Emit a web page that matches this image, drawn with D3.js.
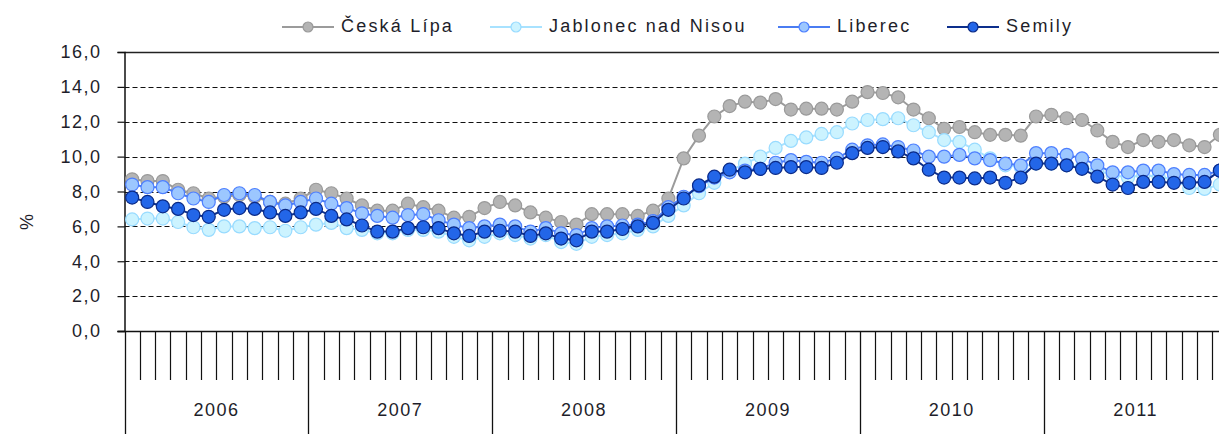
<!DOCTYPE html>
<html>
<head>
<meta charset="utf-8">
<script src="https://cdn.jsdelivr.net/npm/d3@7"></script>
<style>
  body { margin: 0; background: #fff; }
  svg text { font-family: "Liberation Sans", Arial, sans-serif; fill: #1e1e2a; }
</style>
</head>
<body>
<svg id="chart" width="1219" height="434"></svg>
<script>
// years on the category axis, 12 months each
const years = ['2006', '2007', '2008', '2009', '2010', '2011'];
const monthsPerYear = 12;
const yTicks = [0, 2, 4, 6, 8, 10, 12, 14, 16];
const seriesNames = ['Česká Lípa', 'Jablonec nad Nisou', 'Liberec', 'Semily'];

// unemployment rate in %, Jan 2006 .. Dec 2011
const ceskaLipa = [
  8.7, 8.6, 8.6, 8.1, 7.9, 7.6, 7.7, 7.8, 7.7, 7.4, 7.3, 7.6,
  8.1, 7.9, 7.6, 7.2, 6.9, 6.9, 7.3, 7.1, 6.9, 6.5, 6.55, 7.05,
  7.4, 7.2, 6.8, 6.5, 6.25, 6.1, 6.7, 6.7, 6.7, 6.6, 6.9, 7.6,
  9.9, 11.2, 12.3, 12.9, 13.15, 13.1, 13.3, 12.7, 12.75, 12.75, 12.7, 13.15,
  13.7, 13.65, 13.4, 12.7, 12.2, 11.6, 11.7, 11.4, 11.25, 11.25, 11.2, 12.3,
  12.4, 12.2, 12.1, 11.5, 10.85, 10.55, 10.95, 10.85, 10.95, 10.65, 10.55, 11.25
];
const jablonec = [
  6.4, 6.45, 6.45, 6.25, 5.95, 5.8, 6.0, 6.0, 5.9, 5.95, 5.75, 5.95,
  6.1, 6.2, 5.9, 5.8, 5.6, 5.6, 5.8, 5.8, 5.7, 5.4, 5.2, 5.4,
  5.6, 5.5, 5.3, 5.5, 5.1, 5.0, 5.4, 5.5, 5.6, 5.8, 6.0, 6.6,
  7.2, 7.9, 8.5, 9.2, 9.6, 10.0, 10.5, 10.9, 11.1, 11.3, 11.4, 11.9,
  12.1, 12.15, 12.2, 11.8, 11.4, 10.95, 10.85, 10.4, 9.9, 9.5, 9.4, 9.6,
  9.6, 9.5, 9.4, 9.2, 8.95, 8.8, 8.95, 8.85, 8.7, 8.2, 8.15, 8.4
];
const liberec = [
  8.4, 8.25, 8.25, 7.9, 7.6, 7.4, 7.8, 7.9, 7.8, 7.4, 7.2, 7.4,
  7.6, 7.3, 7.05, 6.75, 6.6, 6.5, 6.65, 6.7, 6.35, 6.1, 5.9, 6.0,
  6.1, 6.0, 5.7, 5.9, 5.6, 5.5, 5.9, 6.0, 6.05, 6.1, 6.3, 7.1,
  7.7, 8.3, 8.8, 9.1, 9.2, 9.3, 9.65, 9.8, 9.7, 9.65, 9.9, 10.4,
  10.65, 10.7, 10.55, 10.35, 10.0, 10.0, 10.1, 9.9, 9.8, 9.6, 9.5, 10.2,
  10.2, 10.1, 9.9, 9.5, 9.1, 9.1, 9.2, 9.2, 9.0, 8.95, 8.95, 9.2
];
const semily = [
  7.65, 7.4, 7.15, 7.0, 6.65, 6.55, 6.95, 7.05, 7.0, 6.8, 6.6, 6.8,
  7.0, 6.6, 6.4, 6.05, 5.7, 5.7, 5.9, 5.95, 5.9, 5.6, 5.45, 5.7,
  5.75, 5.7, 5.45, 5.6, 5.3, 5.2, 5.7, 5.7, 5.85, 6.0, 6.2, 6.95,
  7.6, 8.35, 8.85, 9.25, 9.1, 9.3, 9.35, 9.4, 9.4, 9.35, 9.65, 10.2,
  10.5, 10.55, 10.3, 9.9, 9.25, 8.8, 8.8, 8.75, 8.8, 8.5, 8.8, 9.6,
  9.6, 9.5, 9.3, 8.85, 8.4, 8.2, 8.55, 8.55, 8.5, 8.5, 8.55, 9.2
];

const allSeries = [ceskaLipa, jablonec, liberec, semily];
const styles = [
  { line: '#9b9b9b', fill: '#b4b4b4', stroke: '#9a9a9a' },
  { line: '#a8e2ff', fill: '#ccf3ff', stroke: '#98dbff' },
  { line: '#4a7cf2', fill: '#9cc7ff', stroke: '#4d7fff' },
  { line: '#0d2f8c', fill: '#2366e8', stroke: '#0b2a86' }
];

// month keys like 2006-1
const months = [];
years.forEach(yr => { for (let m = 1; m <= monthsPerYear; m++) months.push(yr + '-' + m); });

const svg = d3.select('#chart');
const plotLeft = 124.5, plotTop = 52, plotBottom = 331;
const monthW = 15.32;

// the plot runs a little past the right edge of the picture (cut off like the original)
const x = d3.scaleBand().domain(months).range([plotLeft, plotLeft + months.length * monthW]);
const y = d3.scaleLinear().domain([0, 16]).range([plotBottom, plotTop]);
const fmt = d3.formatLocale({ decimal: ',', thousands: ' ', grouping: [3], currency: ['', ' Kč'] }).format('.1f');

// dashed gridlines
svg.append('g')
  .selectAll('line')
  .data(yTicks.filter(t => t > 0 && t < 16))
  .enter().append('line')
  .attr('x1', plotLeft).attr('x2', 1219)
  .attr('y1', d => Math.round(y(d)) + 0.5).attr('y2', d => Math.round(y(d)) + 0.5)
  .attr('stroke', '#111').attr('stroke-width', 1.2)
  .attr('stroke-dasharray', '5,3');

// top border of plot
svg.append('line')
  .attr('x1', plotLeft).attr('x2', 1219)
  .attr('y1', Math.round(y(16)) + 0.5).attr('y2', Math.round(y(16)) + 0.5)
  .attr('stroke', '#222').attr('stroke-width', 1.5);

// y axis
const yAxis = svg.append('g')
  .attr('transform', 'translate(' + plotLeft + ',0)')
  .call(d3.axisLeft(y).tickValues(yTicks).tickSize(7).tickPadding(16).tickFormat(fmt));
yAxis.select('.domain').attr('stroke', '#111').attr('stroke-width', 1.5);
yAxis.selectAll('.tick line').attr('stroke', '#111').attr('stroke-width', 1.2);
yAxis.selectAll('text')
  .style('font-size', '18px').style('letter-spacing', '1.5px')
  .attr('fill', '#1e1e2a');

svg.append('text')
  .attr('transform', 'translate(28,222) rotate(-90)')
  .attr('text-anchor', 'middle')
  .attr('dominant-baseline', 'middle')
  .style('font-size', '18px')
  .text('%');

// x axis line
svg.append('line')
  .attr('x1', plotLeft - 7).attr('x2', 1219)
  .attr('y1', plotBottom + 0.5).attr('y2', plotBottom + 0.5)
  .attr('stroke', '#111').attr('stroke-width', 1.5);

// month ticks
svg.append('g')
  .selectAll('line')
  .data(months.filter((m, i) => i % monthsPerYear !== 0))
  .enter().append('line')
  .attr('x1', d => Math.round(x(d)) + 0.5).attr('x2', d => Math.round(x(d)) + 0.5)
  .attr('y1', plotBottom).attr('y2', 380)
  .attr('stroke', '#111').attr('stroke-width', 1.2);

// year separators and labels
const yearStart = yr => x(yr + '-1');
const yearW = monthW * monthsPerYear;
svg.append('g')
  .selectAll('line')
  .data(years)
  .enter().append('line')
  .attr('x1', d => Math.round(yearStart(d)) + 0.5).attr('x2', d => Math.round(yearStart(d)) + 0.5)
  .attr('y1', plotBottom).attr('y2', 434)
  .attr('stroke', '#111').attr('stroke-width', 1.3);

svg.append('g')
  .selectAll('text')
  .data(years)
  .enter().append('text')
  .attr('x', d => yearStart(d) + yearW / 2)
  .attr('y', 411)
  .attr('text-anchor', 'middle')
  .attr('dominant-baseline', 'middle')
  .style('font-size', '18px').style('letter-spacing', '1.5px')
  .text(d => d);

// series lines and markers
const line = d3.line()
  .x((d, i) => x(months[i]) + x.bandwidth() / 2)
  .y(d => y(d));

allSeries.forEach((vals, s) => {
  const g = svg.append('g');
  g.append('path')
    .datum(vals)
    .attr('d', line)
    .attr('fill', 'none')
    .attr('stroke', styles[s].line)
    .attr('stroke-width', 2);
  g.selectAll('circle')
    .data(vals)
    .enter().append('circle')
    .attr('cx', (d, i) => x(months[i]) + x.bandwidth() / 2)
    .attr('cy', d => y(d))
    .attr('r', 6.5)
    .attr('fill', styles[s].fill)
    .attr('stroke', styles[s].stroke)
    .attr('stroke-width', 1.2);
});

// legend
const legendX = [282, 490, 778, 947];
const legend = svg.append('g');
seriesNames.forEach((name, s) => {
  const lx = legendX[s];
  legend.append('line')
    .attr('x1', lx).attr('x2', lx + 52)
    .attr('y1', 27).attr('y2', 27)
    .attr('stroke', styles[s].line).attr('stroke-width', 2);
  legend.append('circle')
    .attr('cx', lx + 26).attr('cy', 27).attr('r', 5)
    .attr('fill', styles[s].fill)
    .attr('stroke', styles[s].stroke).attr('stroke-width', 1.2);
  legend.append('text')
    .attr('x', lx + 59).attr('y', 27)
    .attr('dominant-baseline', 'middle')
    .style('font-size', '18px').style('letter-spacing', '2.2px')
    .text(name);
});
</script>
</body>
</html>
